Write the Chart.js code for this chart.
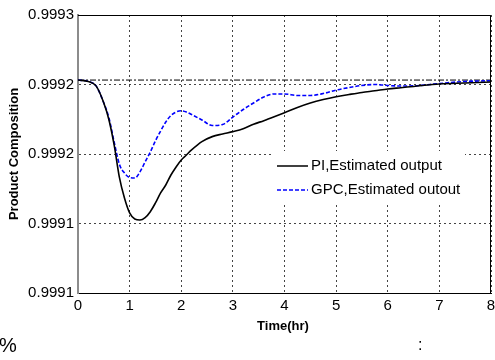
<!DOCTYPE html>
<html>
<head>
<meta charset="utf-8">
<script src="https://cdn.jsdelivr.net/npm/chart.js@4.4.1/dist/chart.umd.min.js"></script>
<style>
  html, body { margin: 0; padding: 0; background: #fff; }
  #wrap { width: 495px; height: 360px; }
</style>
</head>
<body>
<div id="wrap"><canvas id="compChart" width="495" height="360"></canvas></div>
<script>
// time axis (hr) and the two estimated outputs
var timeHr = [0, 0.2, 0.35, 0.5, 0.6, 0.7, 0.8, 0.9, 1.0, 1.1, 1.2, 1.3, 1.4, 1.5, 1.6, 1.7, 1.8, 1.9, 2.0, 2.1,
    2.2, 2.4, 2.6, 2.8, 3.0, 3.2, 3.4, 3.6, 3.8, 4.0, 4.25, 4.5, 4.75, 5.0, 5.25, 5.5, 5.75, 6.0, 6.25, 6.5, 7.0, 7.5, 8.0];

var piOutput = [0.9992332, 0.9992322, 0.9992290, 0.9992167, 0.9992045, 0.9991865, 0.9991635, 0.9991483, 0.9991376,
    0.9991332, 0.9991325, 0.9991342, 0.9991385, 0.9991448, 0.9991520, 0.9991577, 0.9991649, 0.9991707, 0.9991757,
    0.9991793, 0.9991829, 0.9991889, 0.9991925, 0.9991944, 0.9991961, 0.9991982, 0.9992014, 0.9992040, 0.9992068,
    0.9992097, 0.9992135, 0.9992167, 0.9992192, 0.9992212, 0.9992228, 0.9992243, 0.9992255, 0.9992268, 0.9992277,
    0.9992286, 0.9992304, 0.9992311, 0.9992318];

var gpcOutput = [0.9992332, 0.9992322, 0.9992290, 0.9992167, 0.9992059, 0.9991886, 0.9991728, 0.9991663, 0.9991631,
    0.9991627, 0.9991671, 0.9991743, 0.9991814, 0.9991894, 0.9991965, 0.9992030, 0.9992077, 0.9992102, 0.9992111,
    0.9992102, 0.9992084, 0.9992045, 0.9992005, 0.9992012, 0.9992066, 0.9992120, 0.9992167, 0.9992210, 0.9992232,
    0.9992232, 0.9992221, 0.9992221, 0.9992235, 0.9992260, 0.9992278, 0.9992293, 0.9992300, 0.9992293, 0.9992289,
    0.9992290, 0.9992307, 0.9992322, 0.9992327];

var setpoint = 0.9992332;

var yTickValues = [0.99908, 0.99913, 0.99918, 0.99923, 0.99928];
var yTickLabels = ['0.9991', '0.9991', '0.9992', '0.9992', '0.9993'];
var xTickLabels = ['0', '1', '2', '3', '4', '5', '6', '7', '8'];

var seriesNames = ['PI,Estimated output', 'GPC,Estimated outout'];

var FONT = "'Liberation Sans', Arial, sans-serif";

function toPoints(xs, ys) {
    return xs.map(function (x, i) { return { x: x, y: ys[i] }; });
}

// frame, legend box and axis titles
var decorations = {
    id: 'decorations',
    afterDraw: function (chart) {
        var c = chart.ctx;
        var a = chart.chartArea;
        c.save();

        // top / right frame
        c.strokeStyle = '#000';
        c.lineWidth = 1;
        c.beginPath();
        c.moveTo(a.left, a.top + 0.5);
        c.lineTo(a.right - 0.5, a.top + 0.5);
        c.lineTo(a.right - 0.5, a.bottom);
        c.stroke();

        // legend
        var lx = 272, ly = 151, lw = 193, lh = 52;
        c.fillStyle = '#fff';
        c.fillRect(lx, ly, lw, lh);
        var rows = [166, 190];
        var styles = [
            { color: '#000', dash: [], width: 1.5 },
            { color: '#0000ff', dash: [4, 2], width: 1.5 }
        ];
        c.font = '15px ' + FONT;
        c.textBaseline = 'middle';
        c.textAlign = 'left';
        for (var i = 0; i < 2; i++) {
            c.strokeStyle = styles[i].color;
            c.lineWidth = styles[i].width;
            c.setLineDash(styles[i].dash);
            c.beginPath();
            c.moveTo(277, rows[i]);
            c.lineTo(308, rows[i]);
            c.stroke();
            c.setLineDash([]);
            c.fillStyle = '#000';
            c.fillText(seriesNames[i], 311, rows[i]);
        }

        // axis titles
        c.font = 'bold 13px ' + FONT;
        c.fillStyle = '#000';
        c.textAlign = 'center';
        c.fillText('Time(hr)', 283, 326);
        c.translate(14, 154);
        c.rotate(-Math.PI / 2);
        c.fillText('Product Composition', 0, 0);
        c.restore();

        // stray marks at the bottom of the figure
        c.save();
        c.fillStyle = '#000';
        c.textBaseline = 'middle';
        c.font = '20px ' + FONT;
        c.fillText('%', -1, 346);
        c.font = '16px ' + FONT;
        c.fillText(':', 418, 346);
        c.restore();
    }
};

var ctx = document.getElementById('compChart').getContext('2d');
var compChart = new Chart(ctx, {
    type: 'line',
    data: {
        datasets: [
            {
                label: seriesNames[0],
                data: toPoints(timeHr, piOutput),
                borderColor: '#000',
                borderWidth: 1.6,
                pointRadius: 0,
                cubicInterpolationMode: 'monotone',
                fill: false
            },
            {
                label: seriesNames[1],
                data: toPoints(timeHr, gpcOutput),
                borderColor: '#0000ff',
                borderWidth: 1.6,
                borderDash: [4, 2],
                pointRadius: 0,
                cubicInterpolationMode: 'monotone',
                fill: false
            },
            {
                label: 'setpoint',
                data: [{ x: 0, y: setpoint }, { x: 8, y: setpoint }],
                borderColor: '#000',
                borderWidth: 1,
                borderDash: [6, 2, 2, 2],
                pointRadius: 0,
                fill: false
            }
        ]
    },
    options: {
        responsive: false,
        animation: false,
        layout: { padding: { top: 15, right: 4, left: 0, bottom: 0 } },
        plugins: {
            legend: { display: false },
            tooltip: { enabled: false }
        },
        scales: {
            x: {
                type: 'linear',
                min: 0,
                max: 8,
                afterFit: function (scale) {
                    scale.height = 67;
                    scale.paddingRight = 0;
                    scale.paddingLeft = 0;
                },
                afterBuildTicks: function (scale) {
                    scale.ticks = xTickLabels.map(function (l, i) { return { value: i }; });
                },
                ticks: {
                    color: '#000',
                    font: { family: FONT, size: 15 },
                    padding: 4,
                    maxRotation: 0,
                    callback: function (v, i) { return xTickLabels[i]; }
                },
                grid: { color: '#444', lineWidth: 1, drawTicks: false },
                border: { color: '#000', width: 1, dash: [2, 3] }
            },
            y: {
                type: 'linear',
                min: yTickValues[0],
                max: yTickValues[yTickValues.length - 1],
                afterFit: function (scale) {
                    scale.width = 78;
                    scale.paddingTop = 0;
                    scale.paddingBottom = 0;
                },
                afterBuildTicks: function (scale) {
                    scale.ticks = yTickValues.map(function (v) { return { value: v }; });
                },
                ticks: {
                    color: '#000',
                    font: { family: FONT, size: 15 },
                    padding: 4,
                    callback: function (v, i) { return yTickLabels[i]; }
                },
                grid: { color: '#444', lineWidth: 1, drawTicks: false },
                border: { color: '#8c8c8c', width: 2, dash: [2, 3] }
            }
        }
    },
    plugins: [decorations]
});
</script>
</body>
</html>
